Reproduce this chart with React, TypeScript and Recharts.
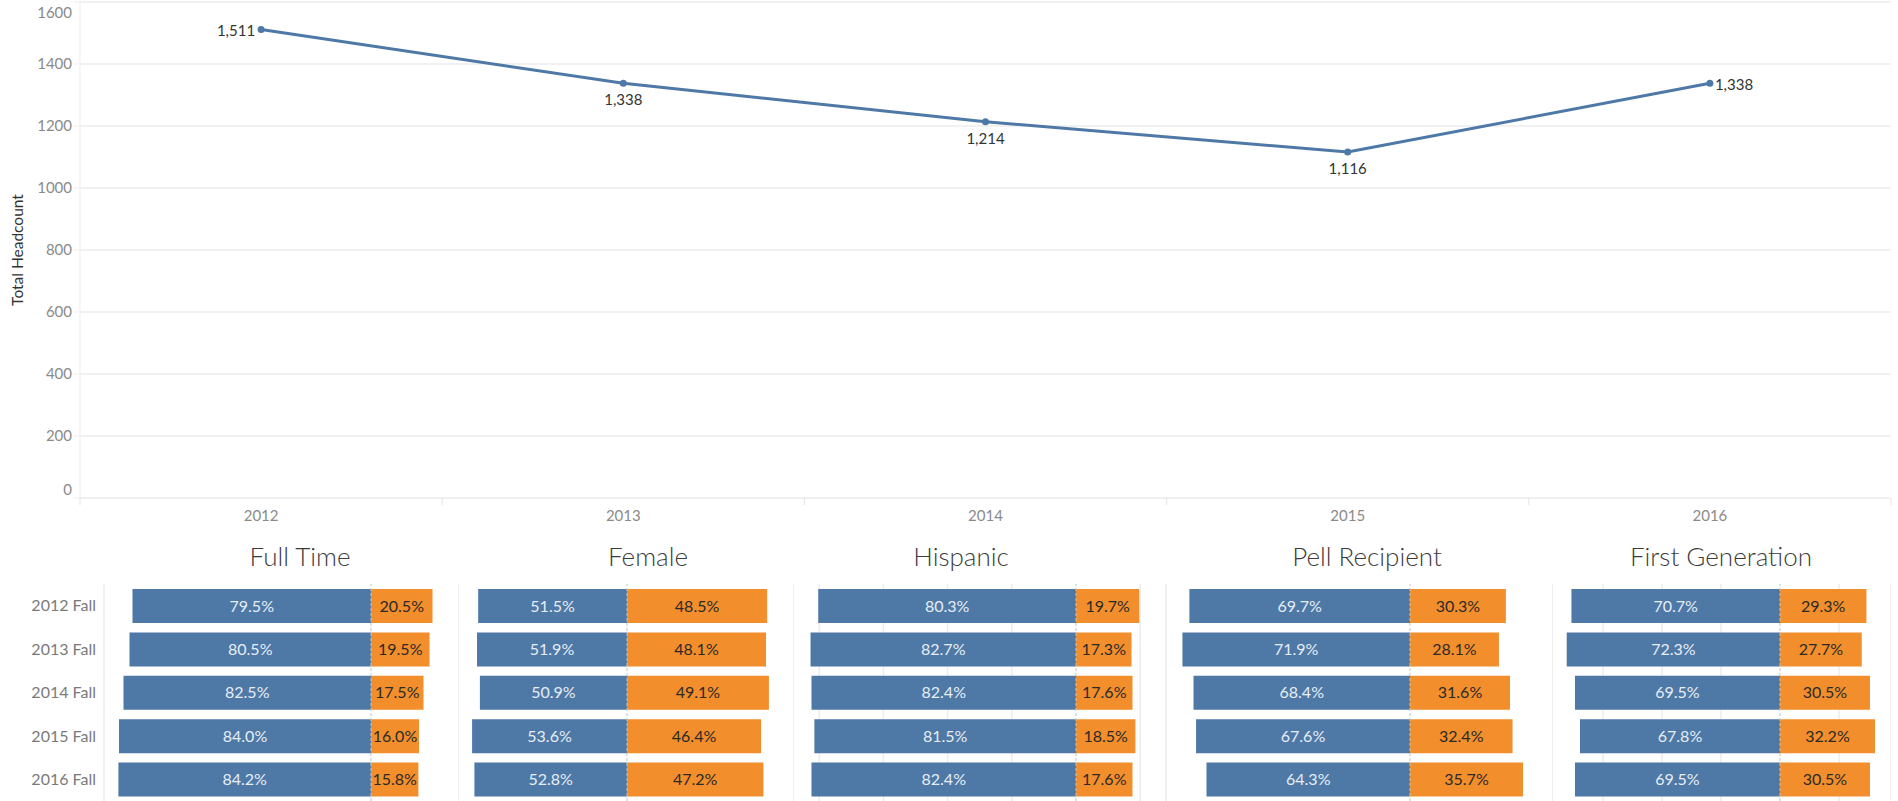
import React from 'react';
import {
    LineChart, Line, BarChart, Bar, XAxis, YAxis, CartesianGrid, LabelList, Label, ReferenceLine
} from 'recharts';

// headcount trend
const years = ['2012', '2013', '2014', '2015', '2016'];
const headcount = [1511, 1338, 1214, 1116, 1338];
const headcountTicks = [0, 200, 400, 600, 800, 1000, 1200, 1400, 1600];

// split bars (blue = yes share, orange = the rest)
const terms = ['2012 Fall', '2013 Fall', '2014 Fall', '2015 Fall', '2016 Fall'];
const fullTimeYes = [79.5, 80.5, 82.5, 84.0, 84.2];
const fullTimeNo = [20.5, 19.5, 17.5, 16.0, 15.8];
const femaleYes = [51.5, 51.9, 50.9, 53.6, 52.8];
const femaleNo = [48.5, 48.1, 49.1, 46.4, 47.2];
const hispanicYes = [80.3, 82.7, 82.4, 81.5, 82.4];
const hispanicNo = [19.7, 17.3, 17.6, 18.5, 17.6];
const pellYes = [69.7, 71.9, 68.4, 67.6, 64.3];
const pellNo = [30.3, 28.1, 31.6, 32.4, 35.7];
const firstGenYes = [70.7, 72.3, 69.5, 67.8, 69.5];
const firstGenNo = [29.3, 27.7, 30.5, 32.2, 30.5];
const gridTicksWide = [-80, -60, -40, -20, 20];

const BLUE = '#4e79a7';
const ORANGE = '#f28e2b';
const FONT = 'Lato, "Open Sans", sans-serif';
const GRID = '#ededed';

const PLOT_LEFT = 80;
const PLOT_RIGHT = 1891;
const PLOT_BOTTOM = 498;
const BAND = (PLOT_RIGHT - PLOT_LEFT) / years.length;

const trendData = years.map((y, i) => ({ year: y, count: headcount[i] }));

const YearTick = (props: any) => {
    const { x, payload, index } = props;
    const last = index === years.length - 1;
    return (
        <g>
            <line x1={x - BAND / 2} x2={x - BAND / 2} y1={PLOT_BOTTOM} y2={PLOT_BOTTOM + 7} stroke="#e3e3e3" />
            {last && <line x1={x + BAND / 2} x2={x + BAND / 2} y1={PLOT_BOTTOM} y2={PLOT_BOTTOM + 7} stroke="#e3e3e3" />}
            <text x={x} y={PLOT_BOTTOM + 18} dy="0.35em" textAnchor="middle" fill="#8a8a8a" fontSize={15} fontFamily={FONT}>
                {payload.value}
            </text>
        </g>
    );
};

// tableau nudges the end labels inside the pane
const CountTick = (props: any) => {
    const { x, y, payload } = props;
    return (
        <text x={x} y={Math.min(Math.max(y, 13), PLOT_BOTTOM - 8)} dy="0.35em" textAnchor="end" fill="#8a8a8a" fontSize={15} fontFamily={FONT}>
            {payload.value}
        </text>
    );
};

const renderCountLabel = (props: any) => {
    const { x, y, value, index } = props;
    const txt = Number(value).toLocaleString('en-US');
    let tx = x, ty = y + 17, anchor = 'middle';
    if (index === 0) { tx = x - 6; ty = y + 1; anchor = 'end'; }
    if (index === headcount.length - 1) { tx = x + 5; ty = y + 2; anchor = 'start'; }
    return (
        <text x={tx} y={ty} dy="0.35em" textAnchor={anchor} fill="#333" fontSize={15} fontFamily={FONT}>{txt}</text>
    );
};

const panels = [
    { title: 'Full Time', yes: fullTimeYes, no: fullTimeNo },
    { title: 'Female', yes: femaleYes, no: femaleNo },
    { title: 'Hispanic', yes: hispanicYes, no: hispanicNo },
    { title: 'Pell Recipient', yes: pellYes, no: pellNo },
    { title: 'First Generation', yes: firstGenYes, no: firstGenNo },
];

// pixel layout of each small-multiple panel
const panelLayout = [
    { left: 0, axisWidth: 104, right: 458, zero: 371, scale: 3.0, titleX: 300, grid: null },
    { left: 458, axisWidth: 0, right: 793, zero: 627, scale: 2.89, titleX: 648, grid: null },
    { left: 793, axisWidth: 0, right: 1166, zero: 1076, scale: 3.21, titleX: 961, grid: gridTicksWide },
    { left: 1166, axisWidth: 0, right: 1552, zero: 1410, scale: 3.165, titleX: 1367, grid: null },
    { left: 1552, axisWidth: 0, right: 1891, zero: 1780, scale: 2.95, titleX: 1721, grid: gridTicksWide },
];

const pct = (v: any) => `${Math.abs(Number(v)).toFixed(1)}%`;

const Panel: React.FC<{ title: string; yes: number[]; no: number[]; layout: any }> = ({ title, yes, no, layout }) => {
    const rows = terms.map((t, i) => ({ term: t, yes: -yes[i], no: no[i] }));
    const plotLeft = layout.left + layout.axisWidth;
    const min = (plotLeft - layout.zero) / layout.scale;
    const max = (layout.right - layout.zero) / layout.scale;
    return (
        <>
            <div style={{
                position: 'absolute', left: layout.titleX - 160, width: 320, top: 540, height: 32, lineHeight: '32px',
                textAlign: 'center', fontSize: 26, fontWeight: 300, color: '#3c3c3c', fontFamily: FONT
            }}>{title}</div>
            <div style={{ position: 'absolute', left: layout.left, top: 584 }}>
                <BarChart width={layout.right - layout.left} height={217} data={rows} layout="vertical"
                    stackOffset="sign" barSize={34} margin={{ top: 0, right: 0, bottom: 0, left: 0 }}>
                    {layout.grid && <CartesianGrid horizontal={false} stroke={GRID} strokeWidth={1.5} />}
                    <XAxis type="number" domain={[min, max]} allowDataOverflow hide ticks={layout.grid || undefined} />
                    <YAxis type="category" dataKey="term" hide={layout.axisWidth === 0} width={layout.axisWidth || 1}
                        axisLine={false} tickLine={false} tick={{ fill: '#7a7a7a', fontSize: 16, fontFamily: FONT }} />
                    <ReferenceLine x={min} stroke={GRID} strokeWidth={1.5} />
                    <ReferenceLine x={0} stroke="#c4c4c4" strokeDasharray="3 2" />
                    <Bar dataKey="yes" stackId="s" fill={BLUE} isAnimationActive={false}>
                        <LabelList dataKey="yes" position="center" formatter={pct} fill="#e6edf5" fontSize={16} fontFamily={FONT} />
                    </Bar>
                    <Bar dataKey="no" stackId="s" fill={ORANGE} isAnimationActive={false}>
                        <LabelList dataKey="no" position="center" formatter={pct} fill="#2a2a2a" fontSize={16} fontFamily={FONT} />
                    </Bar>
                </BarChart>
            </div>
        </>
    );
};

export default function App() {
    return (
        <div style={{ position: 'relative', width: 1898, height: 801, background: '#fff', fontFamily: FONT, overflow: 'hidden' }}>
            <style>{'body{margin:0}'}</style>
            <div style={{ position: 'absolute', left: 0, top: 0 }}>
                <LineChart width={1898} height={540} data={trendData} margin={{ top: 2, right: 7, bottom: 2, left: 0 }}>
                    <CartesianGrid vertical={false} stroke={GRID} strokeWidth={1.5} />
                    <XAxis dataKey="year" padding={{ left: BAND / 2, right: BAND / 2 }} height={40} interval={0}
                        tickLine={false} axisLine={{ stroke: GRID }} tick={<YearTick />} />
                    <YAxis domain={[0, 1600]} ticks={headcountTicks} width={80} tickSize={6}
                        tickLine={{ stroke: GRID }} axisLine={{ stroke: GRID }} tick={<CountTick />}>
                        <Label value="Total Headcount" angle={-90} position="insideLeft" offset={17}
                            style={{ textAnchor: 'middle', fill: '#333', fontSize: 15.5, fontFamily: FONT }} />
                    </YAxis>
                    <Line dataKey="count" stroke={BLUE} strokeWidth={3} isAnimationActive={false}
                        dot={{ r: 3.5, fill: BLUE, stroke: BLUE, strokeWidth: 0 }}>
                        <LabelList dataKey="count" content={renderCountLabel} />
                    </Line>
                </LineChart>
            </div>
            {panels.map((p, i) => (
                <Panel key={p.title} title={p.title} yes={p.yes} no={p.no} layout={panelLayout[i]} />
            ))}
        </div>
    );
}
